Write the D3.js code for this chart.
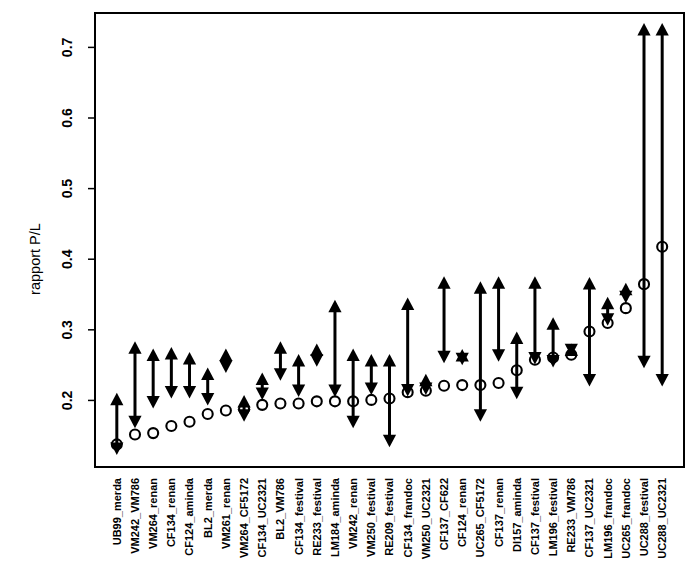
<!DOCTYPE html>
<html>
<head>
<meta charset="utf-8">
<script src="https://cdn.jsdelivr.net/npm/d3@7"></script>
<style>
  html, body { margin: 0; padding: 0; background: #fff; }
  svg { display: block; }
  text { font-family: "Liberation Sans", Arial, sans-serif; fill: #000; }
</style>
</head>
<body>
<svg id="chart" width="687" height="569"></svg>
<script>
const categories = [
  "UB99_merda", "VM242_VM786", "VM264_renan", "CF134_renan", "CF124_aminda",
  "BL2_merda", "VM261_renan", "VM264_CF5172", "CF134_UC2321", "BL2_VM786",
  "CF134_festival", "RE233_festival", "LM184_aminda", "VM242_renan", "VM250_festival",
  "RE209_festival", "CF134_frandoc", "VM250_UC2321", "CF137_CF622", "CF124_renan",
  "UC265_CF5172", "CF137_renan", "DI157_aminda", "CF137_festival", "LM196_festival",
  "RE233_VM786", "CF137_UC2321", "LM196_frandoc", "UC265_frandoc", "UC288_festival",
  "UC288_UC2321"
];
const estimate = [
  0.137, 0.151, 0.153, 0.163, 0.169,
  0.180, 0.185, 0.187, 0.193, 0.195,
  0.195, 0.198, 0.198, 0.198, 0.200,
  0.202, 0.211, 0.213, 0.220, 0.221,
  0.221, 0.224, 0.242, 0.257, 0.260,
  0.264, 0.297, 0.309, 0.330, 0.364,
  0.417
];
const lower = [
  0.122, 0.160, 0.188, 0.202, 0.202,
  0.192, 0.238, 0.169, 0.200, 0.227,
  0.204, 0.247, 0.204, 0.160, 0.207,
  0.133, 0.205, 0.207, 0.252, 0.249,
  0.169, 0.254, 0.201, 0.250, 0.246,
  0.262, 0.219, 0.305, 0.337, 0.245,
  0.219
];
const upper = [
  0.210, 0.283, 0.273, 0.275, 0.268,
  0.246, 0.273, 0.207, 0.239, 0.283,
  0.265, 0.280, 0.342, 0.273, 0.265,
  0.265, 0.345, 0.237, 0.375, 0.272,
  0.368, 0.375, 0.297, 0.375, 0.317,
  0.280, 0.374, 0.346, 0.366, 0.734,
  0.734
];
const yTicks = [0.2, 0.3, 0.4, 0.5, 0.6, 0.7];
const yTitle = "rapport P/L";

const svg = d3.select("#chart");
const plot = { left: 95, right: 684, top: 13, bottom: 467 };

const x = d3.scaleLinear().domain([-0.2, categories.length + 1.2]).range([plot.left, plot.right]);
const y = d3.scaleLinear().domain([0.105, 0.748]).range([plot.bottom, plot.top]);

// y axis
const yAxis = d3.axisLeft(y).tickValues(yTicks).tickSize(7).tickFormat(d3.format(".1f"));
const gy = svg.append("g").attr("transform", `translate(${plot.left},0)`).call(yAxis);
gy.select(".domain").remove();
gy.selectAll(".tick line").attr("stroke", "#000").attr("stroke-width", 1.5);
gy.selectAll(".tick text").remove();
gy.selectAll(".tick").append("text")
  .attr("transform", "translate(-28,0) rotate(-90)")
  .attr("text-anchor", "middle")
  .attr("dy", "0.36em")
  .style("font-size", "14px")
  .style("font-weight", "bold")
  .text(d => d3.format(".1f")(d));

// y title
svg.append("text")
  .attr("transform", `translate(35,${(plot.top + plot.bottom) / 2 + 19}) rotate(-90)`)
  .attr("text-anchor", "middle")
  .attr("dy", "0.36em")
  .style("font-size", "14.5px")
  .text(yTitle);

// x labels
svg.append("g").selectAll("text").data(categories).join("text")
  .attr("transform", (d, i) => `translate(${x(i + 1)},${plot.bottom + 11}) rotate(-90)`)
  .attr("text-anchor", "end")
  .attr("dy", "0.36em")
  .style("font-size", "11px")
  .style("font-weight", "bold")
  .text(d => d);

// frame
svg.append("rect")
  .attr("x", plot.left).attr("y", plot.top)
  .attr("width", plot.right - plot.left).attr("height", plot.bottom - plot.top)
  .attr("fill", "none").attr("stroke", "#000").attr("stroke-width", 2);

// points (open circles)
svg.append("g").selectAll("circle").data(estimate).join("circle")
  .attr("cx", (d, i) => x(i + 1))
  .attr("cy", d => y(d))
  .attr("r", 5)
  .attr("fill", "none")
  .attr("stroke", "#000")
  .attr("stroke-width", 2.1);

// double arrows
const L = 12.5, W = 6.6;
const arrows = svg.append("g");
categories.forEach((c, i) => {
  const cx = x(i + 1);
  const yU = y(upper[i]);
  const yL = y(lower[i]);
  arrows.append("line")
    .attr("x1", cx).attr("x2", cx)
    .attr("y1", yU + 4).attr("y2", yL - 4)
    .attr("stroke", "#000").attr("stroke-width", 3);
  arrows.append("path")
    .attr("d", `M${cx},${yU} L${cx - W},${yU + L} L${cx + W},${yU + L} Z`)
    .attr("fill", "#000");
  arrows.append("path")
    .attr("d", `M${cx},${yL} L${cx - W},${yL - L} L${cx + W},${yL - L} Z`)
    .attr("fill", "#000");
});
</script>
</body>
</html>
